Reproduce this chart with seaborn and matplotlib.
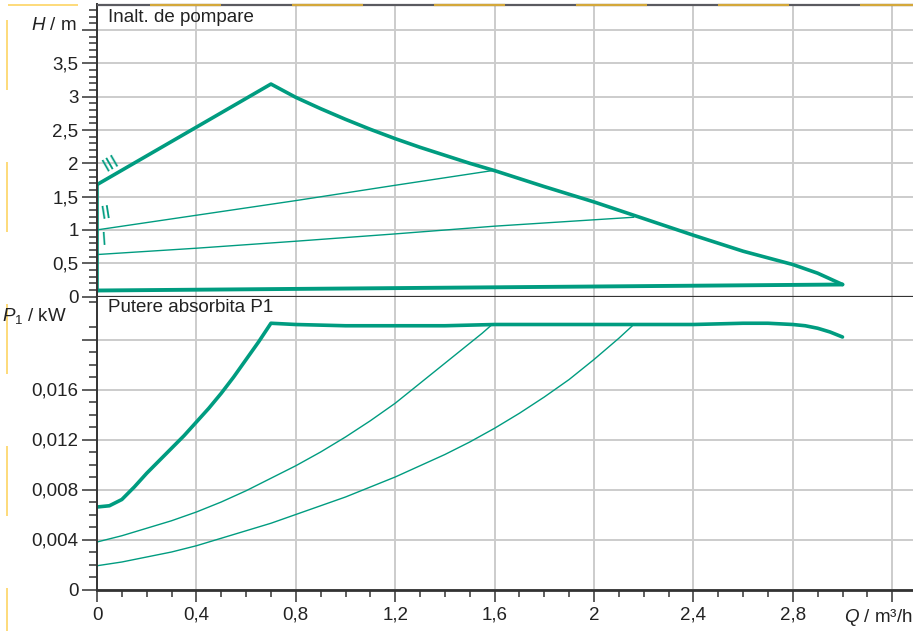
import matplotlib
matplotlib.use('Agg')
import matplotlib.pyplot as plt
import seaborn as sns
from matplotlib.lines import Line2D

# Curbe pompa - Inaltime de pompare (H / m)
q_h_max = [0, 0.7, 0.8, 0.9, 1.0, 1.1, 1.2, 1.3, 1.4, 1.5, 1.6, 1.8, 2.0, 2.2, 2.4,
           2.5, 2.6, 2.7, 2.8, 2.9, 3.0]
h_max = [1.68, 3.19, 2.99, 2.82, 2.66, 2.51, 2.37, 2.24, 2.12, 2.0, 1.89, 1.65, 1.42, 1.17, 0.92,
         0.80, 0.68, 0.58, 0.48, 0.35, 0.18]
q_h_min = [0, 3.0]
h_min = [0.09, 0.18]
q_h_left = [0, 0]
h_left = [0.09, 1.68]
q_h_2 = [0, 0.4, 0.8, 1.2, 1.59]
h_2 = [1.0, 1.22, 1.44, 1.67, 1.89]
q_h_1 = [0, 0.4, 0.8, 1.2, 1.6, 2.16]
h_1 = [0.63, 0.725, 0.83, 0.94, 1.056, 1.19]

# Putere absorbita P1 (kW)
q_p_max = [0, 0.05, 0.1, 0.125, 0.15, 0.2, 0.25, 0.3, 0.35, 0.4, 0.45, 0.5, 0.55, 0.6, 0.65, 0.7,
           0.8, 1.0, 1.2, 1.4, 1.6, 2.0, 2.4, 2.6, 2.7, 2.8, 2.85, 2.9, 2.95, 3.0]
p_max = [0.0066, 0.0067, 0.0072, 0.0077, 0.0082, 0.0093, 0.0103, 0.0113, 0.0123, 0.0134, 0.0145,
         0.0157, 0.0170, 0.0184, 0.0198, 0.0213,
         0.0212, 0.0211, 0.0211, 0.0211, 0.0212, 0.0212, 0.0212, 0.0213, 0.0213, 0.0212, 0.0211,
         0.0209, 0.0206, 0.0202]
q_p_2 = [0, 0.1, 0.2, 0.3, 0.4, 0.5, 0.6, 0.7, 0.8, 0.9, 1.0, 1.1, 1.2, 1.3, 1.4, 1.5, 1.55, 1.59]
p_2 = [0.0038, 0.0043, 0.0049, 0.0055, 0.0062, 0.0070, 0.0079, 0.0089, 0.0099, 0.0110, 0.0122,
       0.0135, 0.0149, 0.0165, 0.0181, 0.0197, 0.0205, 0.0212]
q_p_1 = [0, 0.1, 0.2, 0.3, 0.4, 0.5, 0.6, 0.7, 0.8, 0.9, 1.0, 1.1, 1.2, 1.3, 1.4, 1.5, 1.6,
         1.7, 1.8, 1.9, 2.0, 2.1, 2.16]
p_1 = [0.0019, 0.0022, 0.0026, 0.0030, 0.0035, 0.0041, 0.0047, 0.0053, 0.0060, 0.0067, 0.0074,
       0.0082, 0.0090, 0.0099, 0.0108, 0.0118, 0.0129, 0.0141, 0.0154, 0.0168, 0.0184, 0.0201, 0.0212]

# Etichete axe
q_ticks = [0, 0.4, 0.8, 1.2, 1.6, 2.0, 2.4, 2.8, 3.2]
q_labels = ['0', '0,4', '0,8', '1,2', '1,6', '2', '2,4', '2,8', '']
h_ticks = [0, 0.5, 1, 1.5, 2, 2.5, 3, 3.5, 4]
h_labels = ['0', '0,5', '1', '1,5', '2', '2,5', '3', '3,5', '']
p_ticks = [0, 0.004, 0.008, 0.012, 0.016, 0.02]
p_labels = ['0', '0,004', '0,008', '0,012', '0,016', '']

sns.set_style('white')
plt.rcParams['font.family'] = ['Liberation Sans', 'DejaVu Sans']
plt.rcParams['mathtext.fontset'] = 'custom'
plt.rcParams['mathtext.rm'] = 'Liberation Sans'
plt.rcParams['mathtext.it'] = 'Liberation Sans:italic'

teal = '#009c80'
dark = '#333333'
grid = '#cccccc'
txt = '#222222'
fs = 13.5
W, H = 913, 631

fig = plt.figure(figsize=(9.13, 6.31), dpi=100)
ax1 = fig.add_axes([97 / W, (H - 296.5) / H, 816 / W, 292.5 / H])
ax2 = fig.add_axes([97 / W, (H - 589.5) / H, 816 / W, 293 / H])

xmax = 816 / 248.5
for ax in (ax1, ax2):
    ax.set_xlim(0, xmax)
    ax.set_xticks(q_ticks)
    ax.set_xticks([i / 10 for i in range(33)], minor=True)
    ax.grid(True, which='major', color=grid, lw=1.4)
    ax.set_axisbelow(True)
    for s in ('top', 'right'):
        ax.spines[s].set_visible(False)
    ax.spines['left'].set_color(dark)
    ax.spines['left'].set_linewidth(1.4)
    ax.spines['bottom'].set_color(dark)
    ax.spines['bottom'].set_linewidth(1.6)
    ax.tick_params(axis='y', which='major', left=True, direction='out', length=10.8, width=1.1,
                   color=dark, labelsize=fs, labelcolor=txt, pad=2.5)
    ax.tick_params(axis='y', which='minor', left=True, direction='out', length=5.8, width=1.1,
                   color=dark)
    ax.set_xlabel('')
    ax.set_ylabel('')

# panou sus
ax1.set_ylim(0, 292.5 / 66.6)
ax1.set_yticks(h_ticks)
ax1.set_yticklabels(h_labels)
ax1.set_yticks([i / 10 for i in range(44)], minor=True)
ax1.tick_params(axis='x', which='both', bottom=False, labelbottom=False)

sns.lineplot(x=q_h_min, y=h_min, ax=ax1, color=teal, lw=2.8, sort=False, estimator=None)
sns.lineplot(x=q_h_left, y=h_left, ax=ax1, color=teal, lw=2.6, sort=False, estimator=None)
sns.lineplot(x=q_h_1, y=h_1, ax=ax1, color=teal, lw=1.0, sort=False, estimator=None)
sns.lineplot(x=q_h_2, y=h_2, ax=ax1, color=teal, lw=1.0, sort=False, estimator=None)
sns.lineplot(x=q_h_max, y=h_max, ax=ax1, color=teal, lw=2.6, sort=False, estimator=None)

ax1.text(0.058, 1.99, 'III', color=teal, fontsize=14, rotation=30,
         ha='center', va='center', rotation_mode='anchor')
ax1.text(0.034, 1.24, 'II', color=teal, fontsize=14, rotation=9,
         ha='center', va='center', rotation_mode='anchor')
ax1.text(0.026, 0.85, 'I', color=teal, fontsize=14, rotation=4,
         ha='center', va='center', rotation_mode='anchor')
ax1.text(11 / 816, (296.5 - 17) / 292.5, 'Inalt. de pompare', transform=ax1.transAxes,
         fontsize=fs, color=txt, ha='left', va='center')

# panou jos
ax2.set_ylim(0, 293 / 12500)
ax2.set_yticks(p_ticks)
ax2.set_yticklabels(p_labels)
ax2.set_yticks([i / 1000 for i in range(24) if i != 22], minor=True)
ax2.set_xticklabels(q_labels)
ax2.tick_params(axis='x', which='major', bottom=True, direction='out', length=8.6, width=1.1,
                color=dark, labelsize=fs, labelcolor=txt, pad=4)
ax2.tick_params(axis='x', which='minor', bottom=True, direction='out', length=5, width=1.1,
                color=dark)
ax2.spines['bottom'].set_linewidth(2)

sns.lineplot(x=q_p_1, y=p_1, ax=ax2, color=teal, lw=1.0, sort=False, estimator=None)
sns.lineplot(x=q_p_2, y=p_2, ax=ax2, color=teal, lw=1.0, sort=False, estimator=None)
sns.lineplot(x=q_p_max, y=p_max, ax=ax2, color=teal, lw=2.6, sort=False, estimator=None)

ax2.text(11 / 816, (589.5 - 308) / 293, 'Putere absorbita P1', transform=ax2.transAxes,
         fontsize=fs, color=txt, ha='left', va='center')

# etichete unitati
fig.text(77 / W, 1 - 25 / H, '$H$ / m', fontsize=fs, color=txt, ha='right', va='center')
fig.text(67 / W, 1 - 316 / H, '$P_1$ / kW', fontsize=fs, color=txt, ha='right', va='center')
fig.text(1.0, 1 - 617 / H, '$Q$ / m³/h', fontsize=fs, color=txt, ha='right', va='center')

# bordura decorativa
def fig_line(x0, y0, x1, y1, c, lw):
    fig.add_artist(Line2D([x0 / W, x1 / W], [1 - y0 / H, 1 - y1 / H], color=c, lw=lw,
                          transform=fig.transFigure, solid_capstyle='butt'))

fig_line(97, 4.5, 913, 4.5, '#5a5a60', 1.6)
for x0 in range(150, 913, 142):
    fig_line(x0, 4.5, min(x0 + 71, 913), 4.5, '#d4a83a', 1.6)
fig_line(8, 5, 78, 5, '#fdd870', 1.3)
for y0 in range(20, 631, 142):
    fig_line(7, y0, 7, min(y0 + 70, 631), '#fdd870', 1.3)

fig.savefig('out.png', dpi=100)
